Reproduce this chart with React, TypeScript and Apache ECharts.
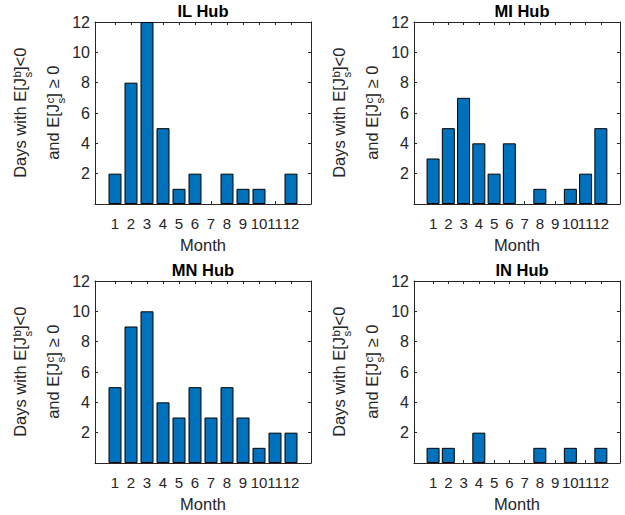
import React, { useEffect, useRef } from "react";
import * as echarts from "echarts";

const months = [1, 2, 3, 4, 5, 6, 7, 8, 9, 10, 11, 12];
const hubTitles = ["IL Hub", "MI Hub", "MN Hub", "IN Hub"];
const ilValues = [2, 8, 12, 5, 1, 2, 0, 2, 1, 1, 0, 2];
const miValues = [3, 5, 7, 4, 2, 4, 0, 1, 0, 1, 2, 5];
const mnValues = [5, 9, 10, 4, 3, 5, 3, 5, 3, 1, 2, 2];
const inValues = [1, 1, 0, 2, 0, 0, 0, 1, 0, 1, 0, 1];
const hubValues = [ilValues, miValues, mnValues, inValues];
const yMin = 0;
const yMax = 12;
const yInterval = 2;
const xMin = -0.25;
const xMax = 13.25;
const xAxisName = "Month";
// y label lines: [before, superscript, subscript, after]
const yLabelLine1 = ["Days with E[J", "b", "s", "]<0"];
const yLabelLine2 = ["and E[J", "c", "s", "] \u2265 0"];

const FONT = "'Liberation Sans', Arial, Helvetica, sans-serif";
const AX = "#262626";
const BAR = "#0072BD";

const gridLefts = [95, 414, 95, 414];
const gridTops = [22, 22, 281, 281];
const gridW = 216;
const gridH = 182;

const MAIN_FS = 16.5;
const SUB_FS = 11.5;

function measure(text: string, size: number): number {
  const c = document.createElement("canvas");
  const ctx = c.getContext("2d");
  if (!ctx) return text.length * size * 0.55;
  ctx.font = `${size}px ${FONT}`;
  return ctx.measureText(text).width;
}

function yLabelGroup(parts: string[], cx: number, cy: number) {
  const w1 = measure(parts[0], MAIN_FS);
  const wsup = measure(parts[1], SUB_FS);
  const wsub = measure(parts[2], SUB_FS);
  const w2 = measure(parts[3], MAIN_FS);
  const W = w1 + Math.max(wsup, wsub) + w2;
  const x0 = -W / 2;
  const base = { fill: AX, verticalAlign: "middle", align: "left" };
  return {
    type: "group",
    x: cx,
    y: cy,
    rotation: Math.PI / 2,
    children: [
      { type: "text", x: x0, y: 0, style: { ...base, text: parts[0], font: `${MAIN_FS}px ${FONT}` } },
      { type: "text", x: x0 + w1 + 0.5, y: -3, style: { ...base, text: parts[1], font: `${SUB_FS}px ${FONT}` } },
      { type: "text", x: x0 + w1 + 0.5, y: 8, style: { ...base, text: parts[2], font: `${SUB_FS}px ${FONT}` } },
      { type: "text", x: x0 + w1 + Math.max(wsup, wsub) + 0.5, y: 0, style: { ...base, text: parts[3], font: `${MAIN_FS}px ${FONT}` } },
    ],
  };
}

export default function App() {
  const ref = useRef<HTMLDivElement>(null);
  useEffect(() => {
    if (!ref.current) return;
    const chart = echarts.init(ref.current, null, { renderer: "svg" });
    const grids: any[] = [];
    const xAxes: any[] = [];
    const yAxes: any[] = [];
    const series: any[] = [];
    const graphics: any[] = [];
    for (let i = 0; i < 4; i++) {
      grids.push({ left: gridLefts[i], top: gridTops[i], width: gridW, height: gridH, containLabel: false });
      const common = {
        type: "value",
        gridIndex: i,
        min: xMin,
        max: xMax,
        splitLine: { show: false },
        axisLine: { show: true, onZero: false, lineStyle: { color: AX, width: 1 } },
        axisTick: { show: true, inside: true, length: 3, customValues: months, lineStyle: { color: AX, width: 1 } },
      };
      xAxes.push({
        ...common,
        position: "bottom",
        axisLabel: {
          show: true,
          customValues: [xMin, ...months, xMax],
          formatter: (v: number) => (v < 0.5 || v > 12.5 ? " " : String(v)),
          showMinLabel: true,
          showMaxLabel: true,
          hideOverlap: false,
          margin: 11.5,
          color: AX,
          fontSize: 15,
          fontFamily: FONT,
        },
        name: xAxisName,
        nameLocation: "middle",
        nameGap: 32,
        nameTextStyle: { color: AX, fontSize: 16.5, fontFamily: FONT },
      });
      xAxes.push({ ...common, position: "top", axisLabel: { show: false } });
      const ycommon = {
        type: "value",
        gridIndex: i,
        min: yMin,
        max: yMax,
        interval: yInterval,
        splitLine: { show: false },
        axisLine: { show: true, onZero: false, lineStyle: { color: AX, width: 1 } },
        axisTick: { show: true, inside: true, length: 3, lineStyle: { color: AX, width: 1 } },
      };
      yAxes.push({
        ...ycommon,
        position: "left",
        axisLabel: { show: true, showMinLabel: false, showMaxLabel: true, margin: 5, color: AX, fontSize: 16, fontFamily: FONT },
      });
      yAxes.push({ ...ycommon, position: "right", axisLabel: { show: false } });
      series.push({
        type: "bar",
        xAxisIndex: 2 * i,
        yAxisIndex: 2 * i,
        barWidth: 13,
        data: months.map((m, k) => [m, hubValues[i][k]]).filter((d) => d[1] > 0),
        itemStyle: { color: BAR, borderColor: "#000", borderWidth: 1 },
      });
      graphics.push({
        type: "text",
        x: gridLefts[i] === 95 ? 203 : 522,
        y: gridTops[i] - 11,
        style: {
          text: hubTitles[i],
          font: `bold 16.5px ${FONT}`,
          fill: "#000",
          align: "center",
          verticalAlign: "middle",
        },
      });
      const off = gridLefts[i] - 95;
      const cy = gridTops[i] + gridH / 2;
      graphics.push(yLabelGroup(yLabelLine1, 20 + off, cy));
      graphics.push(yLabelGroup(yLabelLine2, 53 + off, cy));
    }
    chart.setOption({
      animation: false,
      backgroundColor: "#fff",
      grid: grids,
      xAxis: xAxes,
      yAxis: yAxes,
      series,
      graphic: graphics,
    });
    return () => chart.dispose();
  }, []);
  return <div ref={ref} style={{ position: "fixed", left: 0, top: 0, width: 625, height: 515 }} />;
}
